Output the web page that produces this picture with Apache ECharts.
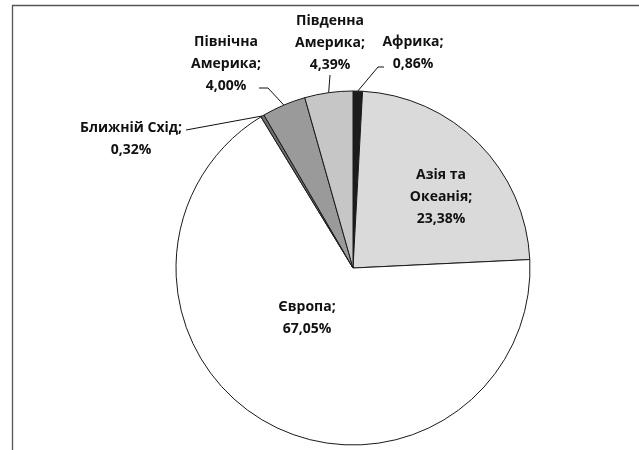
<!DOCTYPE html>
<html>
<head>
<meta charset="utf-8">
<script src="https://cdn.jsdelivr.net/npm/echarts@6/dist/echarts.min.js"></script>
<style>
html,body{margin:0;padding:0;background:#fff;}
#chart{width:639px;height:450px;}
</style>
</head>
<body>
<div id="chart"></div>
<script>
const categories = ['Африка', 'Азія та\nОкеанія', 'Європа', 'Ближній Схід', 'Північна\nАмерика', 'Південна\nАмерика'];
const shares = [0.86, 23.38, 67.05, 0.32, 4.00, 4.39];

const sliceColors = ['#1c1c1c', '#dadada', '#ffffff', '#6e6e6e', '#9a9a9a', '#c6c6c6'];
const insideIdx = [1, 2];
// layout only: label block centres, leader-line ends and horizontal tail
const labelPos = [[413, 53], [441, 197], [307, 318], [131, 139], [226, 64], [330, 43]];
const leaderEnd = [[384, 67], null, null, [186, 130], [259, 88], [330, 75]];
const leaderTail = [-6, 0, 0, 0, 9, 0];

const chart = echarts.init(document.getElementById('chart'), null, {renderer: 'canvas'});
const data = categories.map((c, i) => ({
  name: c,
  value: shares[i],
  itemStyle: {color: sliceColors[i]},
  label: {position: insideIdx.includes(i) ? 'inside' : 'outside'},
  labelLine: {show: !insideIdx.includes(i)}
}));

chart.setOption({
  animation: false,
  backgroundColor: '#ffffff',
  graphic: [{
    type: 'rect',
    shape: {x: 12.5, y: 5.5, width: 700, height: 500},
    style: {fill: 'none', stroke: '#555555', lineWidth: 1.3},
    silent: true,
    z: -10
  }],
  series: [{
    type: 'pie',
    center: [353, 268],
    radius: 177,
    startAngle: 90,
    clockwise: true,
    avoidLabelOverlap: false,
    data: data,
    itemStyle: {borderColor: '#1a1a1a', borderWidth: 1},
    emphasis: {disabled: true},
    label: {
      show: true,
      align: 'center',
      formatter: p => {
        const lines = (p.name + ';').split('\n');
        lines.push(p.value.toFixed(2).replace('.', ',') + '%');
        return lines.map(l => '{a|' + l + '}').join('\n');
      },
      rich: {
        a: {
          fontFamily: 'Open Sans',
          fontWeight: 'bold',
          fontSize: 14,
          lineHeight: 22,
          color: '#111111',
          width: 110,
          align: 'center'
        }
      }
    },
    labelLine: {lineStyle: {color: '#111111', width: 1}, smooth: false},
    labelLayout: function (params) {
      const i = params.dataIndex;
      const p = labelPos[i];
      const out = {x: p[0], y: p[1], align: 'center', verticalAlign: 'middle', hideOverlap: false};
      if (leaderEnd[i] && params.labelLinePoints) {
        const start = params.labelLinePoints[0];
        const end = leaderEnd[i];
        out.labelLinePoints = [start, [end[0] + leaderTail[i], end[1]], end];
      }
      return out;
    }
  }]
});
</script>
</body>
</html>
